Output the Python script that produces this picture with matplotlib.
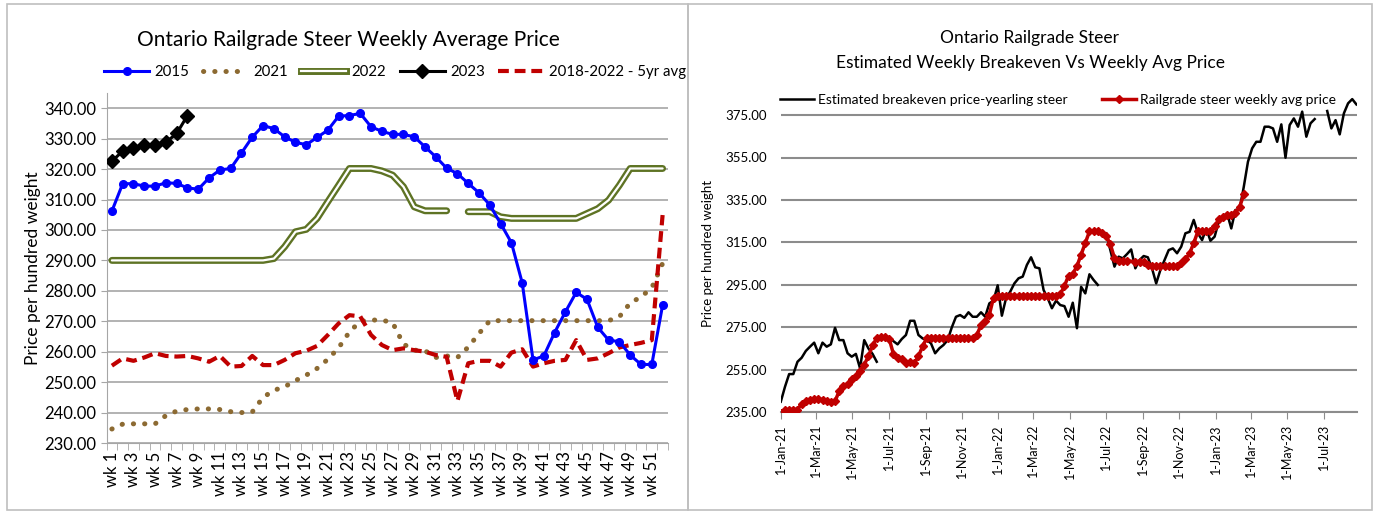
import numpy as np
import datetime as dt
import matplotlib
matplotlib.use("Agg")
import matplotlib.pyplot as plt
import matplotlib.dates as mdates
from matplotlib.lines import Line2D
from matplotlib.patches import Rectangle

plt.rcParams['font.family'] = ['Lato', 'DejaVu Sans']

nan = np.nan

# ---- left chart: weekly prices by year ----
weeks = list(range(1, 53))
week_labels = ['wk %d' % w for w in weeks]

y2015 = [306.2, 315.2, 315.2, 314.4, 314.4, 315.5, 315.3, 313.8, 313.4, 317.1,
         319.7, 320.2, 325.3, 330.5, 334.3, 333.3, 330.6, 328.8, 328.0, 330.4,
         332.8, 337.4, 337.6, 338.3, 333.9, 332.4, 331.4, 331.4, 330.6, 327.3,
         324.0, 320.3, 318.5, 315.3, 312.2, 308.2, 302.1, 295.8, 282.6, 257.3,
         258.6, 266.3, 273.1, 279.5, 277.2, 268.0, 263.8, 263.3, 258.9, 255.8,
         255.8, 275.3]
y2021 = [234.6, 236.2, 236.3, 236.3, 236.3, 239.0, 240.5, 241.0, 241.2, 241.2,
         241.0, 240.3, 240.0, 240.2, 245.0, 247.3, 248.5, 250.5, 252.3, 254.5,
         257.5, 261.3, 266.5, 270.0, 270.4, 270.4, 269.5, 262.5, 260.5, 260.3,
         258.1, 258.6, 258.1, 261.5, 266.0, 270.2, 270.2, 270.2, 270.2, 270.2,
         270.2, 270.2, 270.2, 270.2, 270.2, 270.2, 270.2, 271.5, 276.0, 278.0,
         281.0, 289.0]
y2022 = [290.0, 290.0, 290.0, 290.0, 290.0, 290.0, 290.0, 290.0, 290.0, 290.0,
         290.0, 290.0, 290.0, 290.0, 290.0, 290.6, 294.5, 299.4, 300.2, 303.8,
         309.3, 314.7, 320.2, 320.2, 320.2, 319.4, 318.0, 314.2, 307.6, 306.3,
         306.3, 306.3, nan, 306.0, 306.0, 306.0, 304.3, 303.8, 303.8, 303.8,
         303.8, 303.8, 303.8, 303.8, 305.4, 307.0, 309.8, 314.7, 320.2, 320.2,
         320.2, 320.2]
y2023 = [322.6, 325.9, 327.0, 327.8, 327.8, 328.8, 331.7, 337.6]
avg5yr = [255.4, 257.8, 257.0, 258.1, 259.5, 258.6, 258.4, 258.6, 257.8, 256.7,
          258.6, 255.1, 255.3, 258.6, 255.6, 255.6, 257.3, 259.5, 260.3, 261.9,
          265.5, 269.3, 272.0, 271.6, 265.5, 262.2, 260.5, 261.1, 260.5, 260.0,
          258.9, 258.3, 243.8, 256.2, 257.0, 257.0, 255.1, 259.7, 260.8, 255.1,
          256.2, 257.0, 257.3, 263.8, 257.3, 257.8, 259.5, 261.4, 262.2, 262.9,
          263.8, 304.9]

# ---- right chart: weekly breakeven vs railgrade price, from 1-Jan-21 ----
start = dt.date(2021, 1, 1)
breakeven = [240.0, 247.0, 253.0, 253.0, 258.8, 260.7, 263.9, 265.9, 267.8, 262.8,
             267.8, 265.9, 267.0, 274.8, 269.0, 269.0, 262.8, 261.2, 262.5, 255.7,
             269.0, 265.1, 262.5, 258.8, nan, nan,
             270.5, 268.5, 267.0, 269.5, 271.4, 278.1, 278.1, 271.4, 269.8, 269.0,
             267.5, 262.8, 265.1, 266.7, 269.0, 275.0, 280.0, 280.8, 279.5, 282.1,
             280.0, 280.0, 282.1, 280.0, 286.3, 287.6, 294.8, 280.5, 288.7, 291.8,
             295.7, 298.1, 298.9, 304.4, 308.0, 303.3, 302.8, 292.6, 288.7, 284.0,
             287.6, 285.5, 285.0, 280.0, 286.6, 274.6, 294.1, 291.0, 300.0, 297.3,
             295.0, nan,
             319.3, 311.4, 303.6, 308.3, 307.5, 309.5, 311.7, 302.8, 306.7, 308.6,
             308.0, 302.8, 295.7, 302.0, 306.7, 311.4, 312.2, 309.9, 313.0, 319.3,
             320.0, 325.6, 319.3, 316.1, 321.6, 315.8, 317.7, 324.8, 327.1, 328.7,
             321.6, 330.3, 330.6, 341.2, 353.0, 359.3, 362.4, 362.4, 369.5, 369.5,
             368.7, 362.4, 370.6, 354.9, 370.3, 373.4, 369.5, 376.6, 364.8, 371.1,
             373.1, nan, nan,
             376.9, 368.7, 372.6, 365.9, 375.8, 380.5, 382.5, 380.0]
railgrade = y2021 + y2022 + y2023

be_dates = [start + dt.timedelta(weeks=i) for i in range(len(breakeven))]
rg_dates = [start + dt.timedelta(weeks=i) for i in range(len(railgrade))]
rg_d = [d for d, v in zip(rg_dates, railgrade) if not np.isnan(v)]
rg_v = [v for v in railgrade if not np.isnan(v)]

fig = plt.figure(figsize=(13.76, 5.14), dpi=100)
W, H = 1376.0, 514.0

# panel frames
fig.patches.append(Rectangle((7 / W, 4 / H), (688 - 7) / W, (510 - 4) / H,
                             transform=fig.transFigure, fill=False,
                             edgecolor='#BFBFBF', lw=1.2))
fig.patches.append(Rectangle((688 / W, 4 / H), (1372 - 688) / W, (510 - 4) / H,
                             transform=fig.transFigure, fill=False,
                             edgecolor='#BFBFBF', lw=1.2))

# ================= left chart =================
ax1 = fig.add_axes([106.5 / W, 1 - 443 / H, (668 - 106.5) / W, 350 / H])
blue = '#0000FF'
olive = '#5E7324'
brown = '#8C6A32'
red = '#C00000'

ax1.plot(weeks, y2015, color=blue, lw=2.2, marker='o', ms=5.5, zorder=5)
ax1.plot(weeks, y2021, color=brown, lw=3.6, linestyle=(0, (0.05, 2.2)),
         dash_capstyle='round', zorder=3)
ax1.plot(weeks, y2022, color=olive, lw=5.0, solid_capstyle='round', zorder=4)
ax1.plot(weeks, y2022, color='white', lw=1.6, solid_capstyle='round', zorder=4)
ax1.plot(weeks[:len(y2023)], y2023, color='black', lw=2.2, marker='D', ms=7, zorder=6)
ax1.plot(weeks, avg5yr, color=red, lw=3.0, linestyle=(0, (2.6, 1.4)), zorder=3)

ax1.set_xlim(0.5, 52.5)
ax1.set_ylim(230, 345)
ax1.set_yticks(np.arange(230, 341, 10))
ax1.set_yticklabels(['%.2f' % v for v in np.arange(230, 341, 10)], fontsize=12)
ax1.set_xticks(weeks[::2])
ax1.set_xticklabels(week_labels[::2], rotation=90, fontsize=12)
ax1.set_xticks(np.arange(0.5, 53, 1), minor=True)
ax1.tick_params(axis='x', which='major', length=0, pad=6)
ax1.tick_params(axis='x', which='minor', length=5, color='#A6A6A6')
ax1.tick_params(axis='y', length=4, color='#A6A6A6')
ax1.yaxis.grid(True, color='#A6A6A6', lw=1.2)
ax1.set_axisbelow(True)
for s in ['top', 'right']:
    ax1.spines[s].set_visible(False)
for s in ['left', 'bottom']:
    ax1.spines[s].set_color('#A6A6A6')
ax1.set_ylabel('Price per hundred weight', fontsize=12.5, labelpad=2)

fig.text(348 / W, 1 - 40 / H, 'Ontario Railgrade Steer Weekly Average Price',
         ha='center', va='center', fontsize=15)

handles = [
    Line2D([], [], color=blue, lw=2.2, marker='o', ms=5.5),
    Line2D([], [], color=brown, lw=3.6, linestyle=(0, (0.05, 2.2)), dash_capstyle='round'),
    (Line2D([], [], color=olive, lw=5.0), Line2D([], [], color='white', lw=1.6)),
    Line2D([], [], color='black', lw=2.2, marker='D', ms=7),
    Line2D([], [], color=red, lw=3.0, linestyle=(0, (2.6, 1.4))),
]
fig.legend(handles, ['2015', '2021', '2022', '2023', '2018-2022 - 5yr avg'],
           loc='center', bbox_to_anchor=(395 / W, 1 - 72 / H), ncol=5,
           frameon=False, fontsize=10.8, handlelength=3.0, handletextpad=0.35,
           columnspacing=0.9, borderpad=0.2)

# ================= right chart =================
ax2 = fig.add_axes([780.8 / W, 1 - 412.3 / H, (1357 - 780.8) / W, 318.5 / H])
ax2.plot(be_dates, breakeven, color='black', lw=1.8, zorder=3,
         label='Estimated breakeven price-yearling steer')
ax2.plot(rg_d, rg_v, color=red, lw=2.5, marker='D', ms=3.6, zorder=4,
         label='Railgrade steer weekly avg price')

ax2.set_xlim(start, start + dt.timedelta(weeks=138, days=1))
ax2.set_ylim(235, 385)
ax2.set_yticks(np.arange(235, 376, 20))
ax2.set_yticklabels(['%.2f' % v for v in np.arange(235, 376, 20)], fontsize=9.5)
ax2.xaxis.set_major_locator(mdates.MonthLocator(bymonth=[1, 3, 5, 7, 9, 11]))
ax2.xaxis.set_major_formatter(plt.FuncFormatter(
    lambda x, pos: '%d-%s' % (mdates.num2date(x).day, mdates.num2date(x).strftime('%b-%y'))))
plt.setp(ax2.get_xticklabels(), rotation=90, fontsize=9)
ax2.tick_params(axis='x', length=5, color='#8C8C8C')
ax2.tick_params(axis='y', length=0, pad=10)
ax2.yaxis.grid(True, color='#8C8C8C', lw=1.5)
ax2.set_axisbelow(True)
for s in ['top', 'right', 'left']:
    ax2.spines[s].set_visible(False)
ax2.spines['bottom'].set_color('#8C8C8C')
ax2.spines['bottom'].set_linewidth(1.5)
ax2.set_ylabel('Price per hundred weight', fontsize=9.5, labelpad=8)

fig.text(1030 / W, 1 - 38 / H, 'Ontario Railgrade Steer', ha='center', va='center', fontsize=12.5)
fig.text(1030 / W, 1 - 63 / H, 'Estimated Weekly Breakeven Vs Weekly Avg Price',
         ha='center', va='center', fontsize=12.5)
ax2.legend(loc='center', bbox_to_anchor=(1058 / W, 1 - 100 / H),
           bbox_transform=fig.transFigure, ncol=2, frameon=False, fontsize=10,
           handlelength=2.4, handletextpad=0.3, columnspacing=2.5)

fig.savefig('out.png', dpi=100)
